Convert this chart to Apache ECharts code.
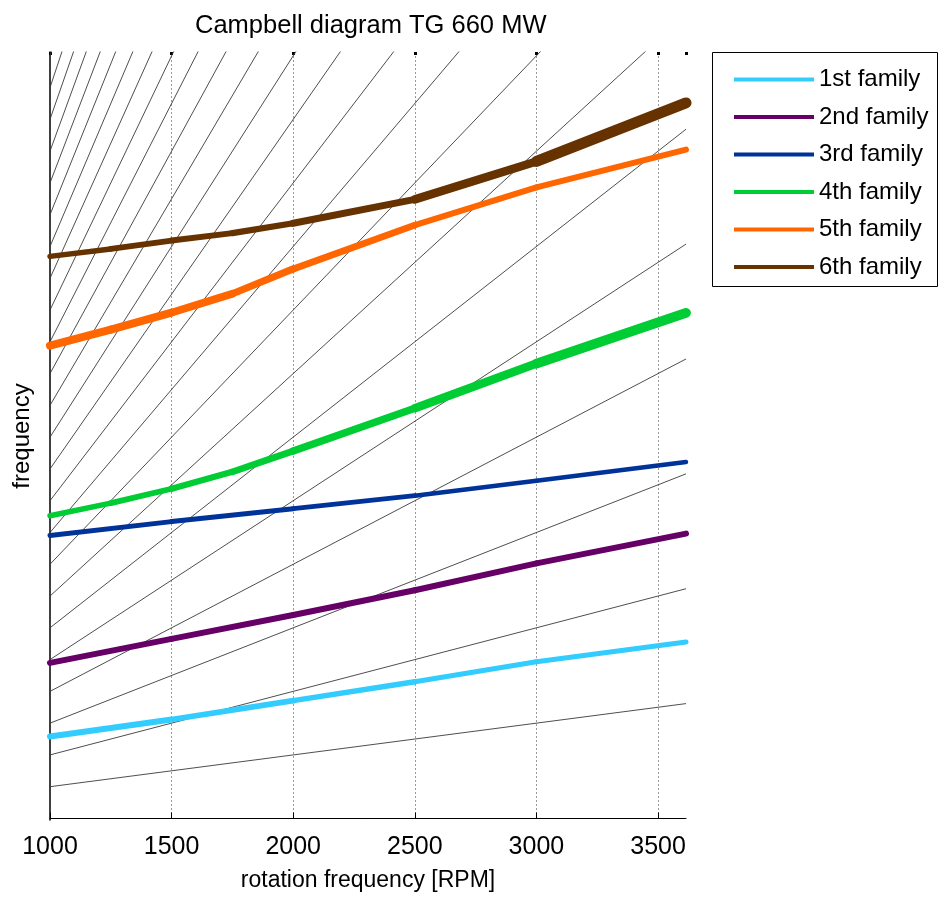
<!DOCTYPE html>
<html><head><meta charset="utf-8">
<script src="https://cdn.jsdelivr.net/npm/echarts@6/dist/echarts.min.js"></script>
<style>html,body{margin:0;padding:0;background:#fff}#c{width:940px;height:897px}</style>
</head><body><div id="c"></div>
<script>
// ---- data ----
const xTicks = [1000, 1500, 2000, 2500, 3000, 3500];
const rpmRange = [1000, 3615];
const harmonicOrders = [1,2,3,4,5,6,7,8,9,10,11,12,13,14,15,16,17,18,19,20,21,22,23,24];
const familyNames = ['1st family', '2nd family', '3rd family', '4th family', '5th family', '6th family'];

const rpm1 = [1000, 1500, 2000, 2500, 3000, 3615];
const freq1 = [43.0, 51.9, 61.8, 71.7, 82.2, 92.6];
const rpm2 = [1000, 1500, 2000, 2500, 3000, 3615];
const freq2 = [81.6, 94.2, 106.7, 119.7, 133.8, 149.4];
const rpm3 = [1000, 1500, 2000, 2500, 3000, 3615];
const freq3 = [148.4, 155.7, 162.5, 169.3, 177.1, 187.0];
const rpm4 = [1000, 1250, 1500, 1750, 2000, 2500, 3000, 3615];
const freq4 = [158.8, 165.4, 172.9, 181.8, 192.7, 215.2, 238.6, 265.2];
const rpm5 = [1000, 1250, 1500, 1750, 2000, 2500, 3000, 3615];
const freq5 = [248.0, 256.4, 265.3, 275.2, 288.2, 311.2, 331.0, 350.8];
const rpm6 = [1000, 1250, 1500, 1750, 2000, 2500, 3000, 3615];
const freq6 = [294.8, 298.7, 303.1, 307.0, 312.2, 324.7, 344.6, 375.3];

// ---- styles ----
const familyColors = ['#33ccff', '#660066', '#003399', '#00cc33', '#ff6600', '#663300'];
const familyWidths = [
  [6, 6, 5.5, 5.5, 5, 5],
  [6, 6, 6, 6, 6, 6],
  [5, 5, 5, 4.5, 4.5, 4.5],
  [5.5, 5.5, 6, 6.5, 7, 8, 9, 10.5],
  [8, 8, 8, 7.5, 7, 6.5, 6, 6],
  [5.5, 5.5, 6, 6, 6.5, 7.5, 9.5, 12.5]
];
const FONT = 'Liberation Sans, Arial, sans-serif';

const families = [[rpm1, freq1], [rpm2, freq2], [rpm3, freq3], [rpm4, freq4], [rpm5, freq5], [rpm6, freq6]];

const series = [];
harmonicOrders.forEach(k => {
  series.push({
    name: 'order ' + k, type: 'line', silent: true, symbol: 'none', z: 1,
    data: rpmRange.map(r => [r, k * r / 60]),
    lineStyle: { color: '#3a3a3a', width: 0.9 }
  });
});
families.forEach((fam, fi) => {
  const [rpm, freq] = fam;
  for (let i = 0; i < rpm.length - 1; i++) {
    const w = (familyWidths[fi][i] + familyWidths[fi][i + 1]) / 2;
    series.push({
      name: familyNames[fi], type: 'line', silent: true, symbol: 'none', z: 3,
      data: [[rpm[i], freq[i]], [rpm[i + 1], freq[i + 1]]],
      itemStyle: { color: familyColors[fi] },
      lineStyle: { color: familyColors[fi], width: w, cap: 'round', join: 'round' }
    });
  }
});

const chart = echarts.init(document.getElementById('c'), null, { renderer: 'canvas' });
chart.setOption({
  backgroundColor: '#fff',
  animation: false,
  title: {
    text: 'Campbell diagram TG 660 MW', left: 190, top: 8,
    textStyle: { fontSize: 25.5, fontWeight: 'normal', color: '#000', fontFamily: FONT }
  },
  grid: { left: 50, right: 254, top: 52, bottom: 73, containLabel: false },
  legend: {
    data: familyNames, orient: 'vertical', left: 729, top: 61, selectedMode: false,
    icon: 'rect', itemWidth: 80, itemHeight: 4, itemGap: 10.5, symbolKeepAspect: false,
    textStyle: { fontSize: 24, color: '#000', fontFamily: FONT, lineHeight: 27 }
  },
  graphic: [{
    type: 'rect', shape: { x: 712.5, y: 52.5, width: 225, height: 234 },
    style: { fill: 'none', stroke: '#000', lineWidth: 1 }, silent: true
  }],
  xAxis: [{
    type: 'value', min: rpmRange[0], max: rpmRange[1], interval: 500, position: 'bottom',
    name: 'rotation frequency [RPM]', nameLocation: 'middle', nameGap: 49,
    nameTextStyle: { fontSize: 23, color: '#000', fontFamily: FONT },
    axisLine: { show: true, lineStyle: { color: '#000', width: 1 } },
    axisTick: { show: true, inside: true, length: 6, lineStyle: { color: '#000', width: 1 } },
    axisLabel: {
      color: '#000', fontSize: 25, fontFamily: FONT, margin: 15, showMaxLabel: false,
      formatter: v => (xTicks.indexOf(v) >= 0 ? String(v) : '')
    },
    splitLine: { show: true, showMinLine: false, showMaxLine: false, lineStyle: { color: '#9a9a9a', width: 1, type: [2, 2] } }
  }, {
    type: 'value', min: rpmRange[0], max: rpmRange[1], interval: 500, position: 'top',
    axisLine: { show: false },
    axisTick: { show: true, inside: true, length: 3, lineStyle: { color: '#000', width: 3 } },
    axisLabel: { show: false }, splitLine: { show: false }
  }],
  yAxis: {
    type: 'value', min: -0.8, max: 402,
    name: 'frequency', nameLocation: 'middle', nameGap: 16, nameRotate: 90,
    nameTextStyle: { fontSize: 24, color: '#000', fontFamily: FONT },
    axisLine: { show: true, lineStyle: { color: '#000', width: 1.5 } },
    axisTick: { show: false }, axisLabel: { show: false }, splitLine: { show: false }
  },
  series: series
});
</script>
</body></html>
